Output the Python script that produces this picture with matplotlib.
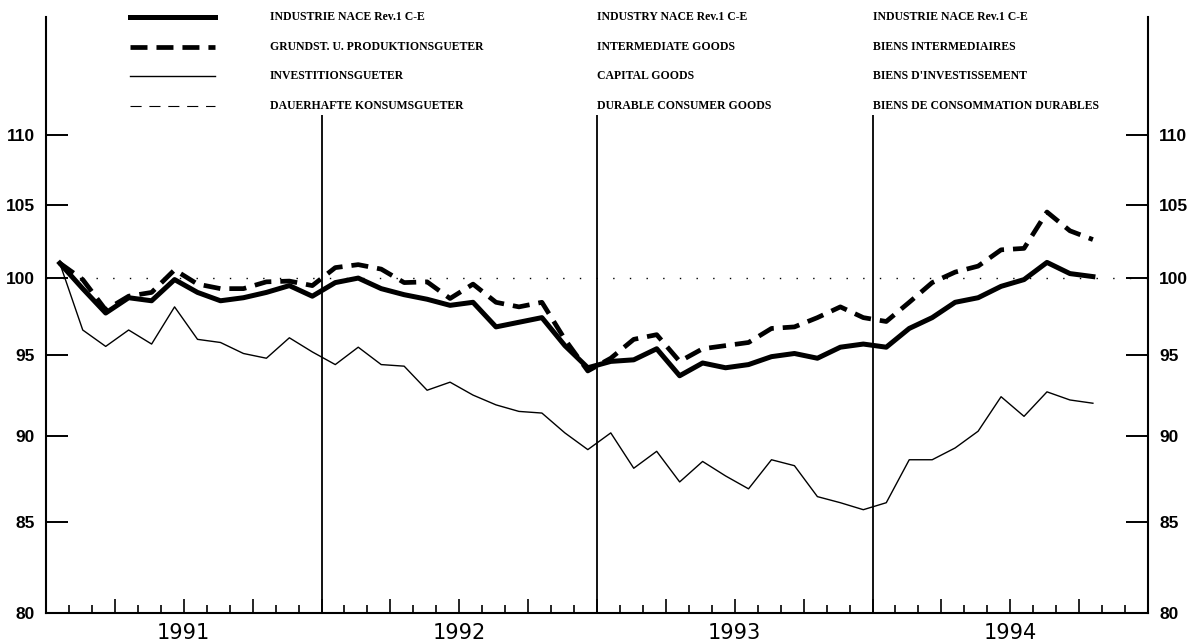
import matplotlib
matplotlib.use('Agg')
import matplotlib.pyplot as plt
from matplotlib.lines import Line2D
from matplotlib.ticker import FixedLocator, FixedFormatter, NullLocator
import numpy as np

# monthly index 1991=100, Jan 1991 .. Oct 1994
years = ['1991', '1992', '1993', '1994']
months = np.arange(46)

industry = [101.0, 99.3, 97.7, 98.7, 98.5, 99.9, 99.05, 98.5, 98.7, 99.05, 99.5, 98.8,
            99.7, 100.0, 99.3, 98.9, 98.6, 98.2, 98.4, 96.8, 97.1, 97.4, 95.6, 94.2,
            94.6, 94.7, 95.4, 93.7, 94.5, 94.2, 94.4, 94.9, 95.1, 94.8, 95.5, 95.7,
            95.5, 96.7, 97.4, 98.4, 98.7, 99.45, 99.9, 101.05, 100.3, 100.1]
intermediate = [101.0, 99.9, 97.9, 98.8, 99.05, 100.55, 99.6, 99.3, 99.3, 99.75, 99.8, 99.5,
                100.7, 100.9, 100.6, 99.7, 99.75, 98.65, 99.6, 98.4, 98.1, 98.4, 96.0, 94.0,
                94.8, 96.0, 96.3, 94.6, 95.4, 95.6, 95.8, 96.7, 96.8, 97.4, 98.1, 97.4,
                97.15, 98.4, 99.7, 100.4, 100.8, 101.9, 102.0, 104.5, 103.2, 102.6]
capital = [101.0, 96.6, 95.55, 96.6, 95.7, 98.1, 96.0, 95.8, 95.1, 94.8, 96.1, 95.2,
           94.4, 95.5, 94.4, 94.3, 92.8, 93.3, 92.5, 91.9, 91.5, 91.4, 90.2, 89.2,
           90.2, 88.1, 89.1, 87.3, 88.5, 87.65, 86.9, 88.6, 88.25, 86.45, 86.1, 85.7,
           86.1, 88.6, 88.6, 89.3, 90.3, 92.4, 91.2, 92.7, 92.2, 92.0]

labels_de = ['INDUSTRIE NACE Rev.1 C-E', 'GRUNDST. U. PRODUKTIONSGUETER',
             'INVESTITIONSGUETER', 'DAUERHAFTE KONSUMSGUETER']
labels_en = ['INDUSTRY NACE Rev.1 C-E', 'INTERMEDIATE GOODS',
             'CAPITAL GOODS', 'DURABLE CONSUMER GOODS']
labels_fr = ['INDUSTRIE NACE Rev.1 C-E', 'BIENS INTERMEDIAIRES',
             "BIENS D'INVESTISSEMENT", 'BIENS DE CONSOMMATION DURABLES']

yticks = [80, 85, 90, 95, 100, 105, 110]

W, H = 1193, 644
fig = plt.figure(figsize=(W / 100, H / 100), dpi=100)
ax = fig.add_axes([46 / W, 1 - 613 / H, (1148 - 46) / W, (613 - 17) / H])

styles = [dict(color='black', lw=3.6, solid_joinstyle='round'),
          dict(color='black', lw=3.4, dashes=(3.6, 1.9), dash_capstyle='butt'),
          dict(color='black', lw=1.0),
          dict(color='black', lw=0.8, dashes=(10, 7))]

x = months + 0.6
ax.plot(x, intermediate, **styles[1])
ax.plot(x, industry, **styles[0])
ax.plot(x, capital, **styles[2])

ax.set_yscale('log')
ax.set_ylim(80, 119.0)
ax.set_xlim(0, 48)

ax.axhline(100, color='black', lw=1.0, ls=(0, (1, 11)))
ax.vlines([12, 24, 36], 80, 111.5, color='black', lw=1.3)

ax.yaxis.set_major_locator(FixedLocator(yticks))
ax.yaxis.set_major_formatter(FixedFormatter([str(v) for v in yticks]))
ax.yaxis.set_minor_locator(NullLocator())
ax.tick_params(axis='y', which='major', direction='in', length=16, width=1.4,
               left=True, right=True, labelleft=True, labelright=True, pad=8)
for lab in ax.get_yticklabels():
    lab.set_fontfamily(['Liberation Sans', 'DejaVu Sans'])
    lab.set_fontweight('bold')
    lab.set_fontsize(12.5)

ax.xaxis.set_major_locator(FixedLocator(np.arange(0, 49, 3)))
ax.xaxis.set_minor_locator(FixedLocator(np.arange(0, 49, 1)))
ax.tick_params(axis='x', which='major', direction='in', length=10, width=1.2, labelbottom=False)
ax.tick_params(axis='x', which='minor', direction='in', length=6, width=1.2)

for i, yr in enumerate(years):
    ax.text(12 * i + 6, -0.034, yr, transform=ax.get_xaxis_transform(),
            ha='center', va='center', fontsize=15, family='DejaVu Sans')

ax.spines['top'].set_visible(False)
for s in ['left', 'right', 'bottom']:
    ax.spines[s].set_linewidth(1.5)

# legend block
row_y = [17, 47, 76, 106]
for ry, st, de, en, fr in zip(row_y, styles, labels_de, labels_en, labels_fr):
    fy = 1 - ry / H
    fig.add_artist(Line2D([130 / W, 215 / W], [fy, fy], transform=fig.transFigure, **st))
    for tx, t in [(270, de), (597, en), (873, fr)]:
        fig.text(tx / W, fy, t, ha='left', va='center', fontsize=8.5,
                 family='Liberation Serif', fontweight='bold')

fig.savefig('out.png', dpi=100)
